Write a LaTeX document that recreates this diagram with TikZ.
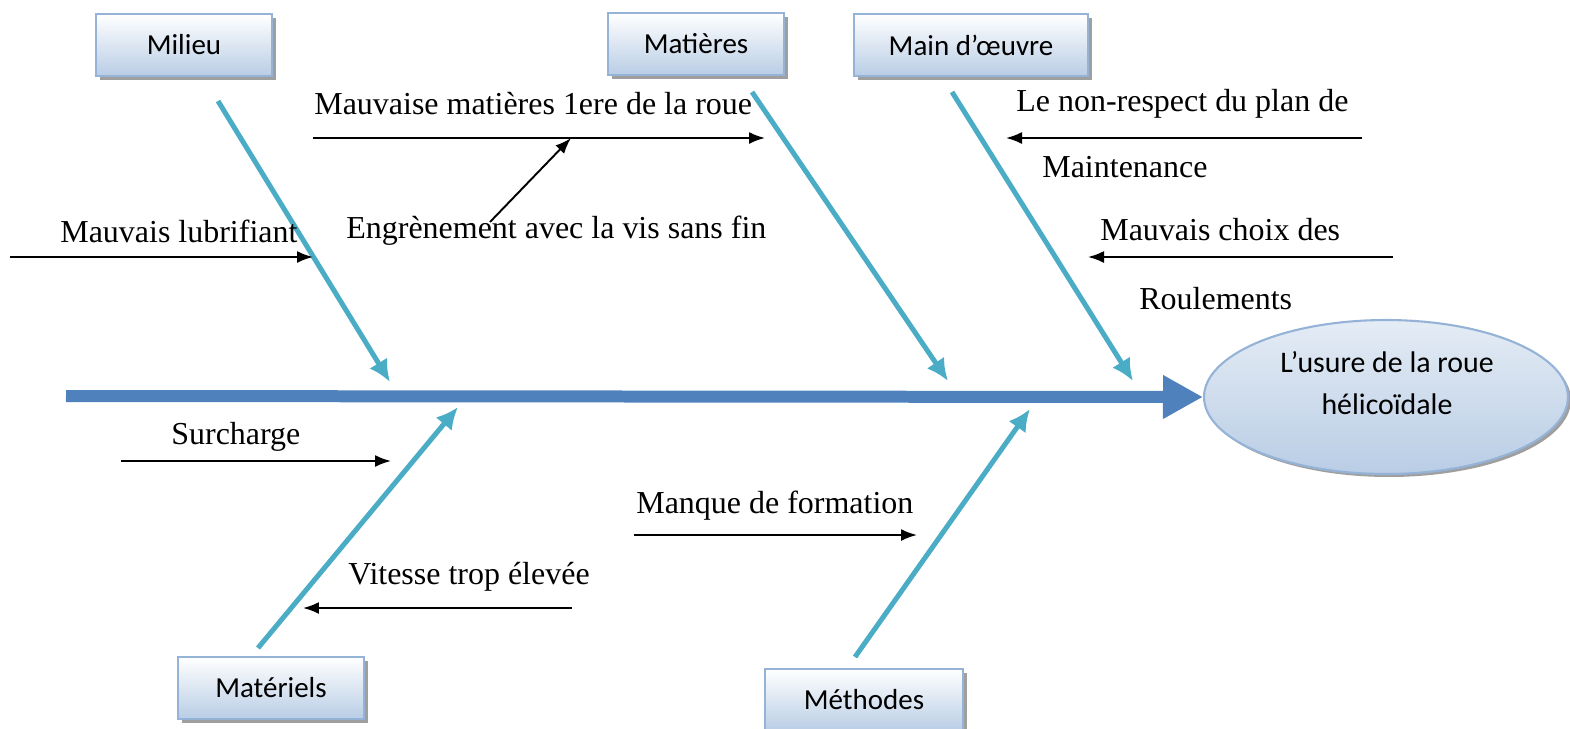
\documentclass[tikz,border=0pt]{standalone}
\usepackage{fontspec}
\setmainfont{Liberation Serif}
\newfontfamily\boxfont{Carlito}
\usepackage{tikz}
\usetikzlibrary{positioning,shapes,arrows.meta,shadows}
\definecolor{spineblue}{HTML}{4F81BD}
\definecolor{ribteal}{HTML}{4BACC6}
\definecolor{boxline}{HTML}{95B3D7}
\definecolor{boxbot}{HTML}{B9CDE5}
\tikzstyle{cat}=[draw=boxline, line width=1.2pt, top color=white, bottom color=boxbot, minimum height=1.24cm, minimum width=3.52cm, font=\boxfont\fontsize{16.5}{20}\selectfont, drop shadow={shadow xshift=0.08cm, shadow yshift=-0.08cm, fill=gray!75, opacity=1}]
\tikzstyle{effet}=[ellipse, draw=boxline, line width=1.2pt, top color=boxline!25, bottom color=boxbot, minimum width=7.28cm, minimum height=3.08cm, drop shadow={shadow xshift=0.06cm, shadow yshift=-0.06cm, fill=gray!75, opacity=1}]
\tikzstyle{lbl}=[anchor=west, inner sep=0pt, font=\fontsize{18.2}{22}\selectfont]
\tikzstyle{rib}=[ribteal, line width=0.1cm, -{Latex[length=0.44cm,width=0.42cm]}]
\tikzstyle{cause}=[line width=1.1pt, -{Latex[length=0.32cm,width=0.24cm]}]

\begin{document}
\begin{tikzpicture}[x=0.02cm,y=-0.02cm]
\useasboundingbox (0,0) rectangle (1570,728);

% categories
\node[cat] (milieu) at (184,45) {Milieu};
\node[cat] (matieres) at (696,44) {Matières};
\node[cat, minimum width=4.68cm] (main) at (971,45) {Main d’œuvre};
\node[cat, minimum width=3.72cm] (materiels) at (271,688) {Matériels};
\node[cat, minimum width=3.96cm] (methodes) at (864,700) {Méthodes};

% effect
\node[effet] (effet) at (1386,397) {};
\node[align=center, font=\boxfont\fontsize{17}{24}\selectfont] (effettxt) at (1387,383) {L’usure de la roue\\hélicoïdale};

% spine
\coordinate (queue) at (66,396);
\draw[spineblue, line width=0.24cm, -{Triangle[length=0.8cm,width=0.82cm]}] (queue) -- (effet.west);

% ribs
\coordinate (r1a) at (218,101); \coordinate (r1b) at (390,382);
\coordinate (r2a) at (752,92);  \coordinate (r2b) at (948,381);
\coordinate (r3a) at (952,92);  \coordinate (r3b) at (1133,381);
\coordinate (r4a) at (258,648); \coordinate (r4b) at (458,407);
\coordinate (r5a) at (855,657); \coordinate (r5b) at (1030,409);
\draw[rib] (r1a) -- (r1b);
\draw[rib] (r2a) -- (r2b);
\draw[rib] (r3a) -- (r3b);
\draw[rib] (r4a) -- (r4b);
\draw[rib] (r5a) -- (r5b);

% causes
\node[lbl] (mat1) at (314,104) {Mauvaise matières 1ere de la roue};
\coordinate (mat1a) at (313,138); \coordinate (mat1b) at (765,138);
\draw[cause] (mat1a) -- (mat1b);

\node[lbl] (engr) at (346,231) {Engrènement avec la vis sans fin};
\coordinate (engra) at (490,222); \coordinate (engrb) at (571,138);
\draw[cause] (engra) -- (engrb);

\node[lbl] (lub) at (60,231) {Mauvais lubrifiant};
\coordinate (luba) at (10,257); \coordinate (lubb) at (313,257);
\draw[cause] (luba) -- (lubb);

\node[lbl] (plan) at (1016,104) {Le non-respect du plan de};
\node[lbl] (maint) at (1042,167) {Maintenance};
\coordinate (plana) at (1362,138); \coordinate (planb) at (1006,138);
\draw[cause] (plana) -- (planb);

\node[lbl] (choix) at (1100,230) {Mauvais choix des};
\node[lbl] (roul) at (1139,299) {Roulements};
\coordinate (choixa) at (1393,257); \coordinate (choixb) at (1088,257);
\draw[cause] (choixa) -- (choixb);

\node[lbl] (surch) at (171,437) {Surcharge};
\coordinate (surcha) at (121,461); \coordinate (surchb) at (391,461);
\draw[cause] (surcha) -- (surchb);

\node[lbl] (form) at (636,506) {Manque de formation};
\coordinate (forma) at (634,535); \coordinate (formb) at (917,535);
\draw[cause] (forma) -- (formb);

\node[lbl] (vit) at (348,577) {Vitesse trop élevée};
\coordinate (vita) at (572,608); \coordinate (vitb) at (303,608);
\draw[cause] (vita) -- (vitb);
\end{tikzpicture}
\end{document}
